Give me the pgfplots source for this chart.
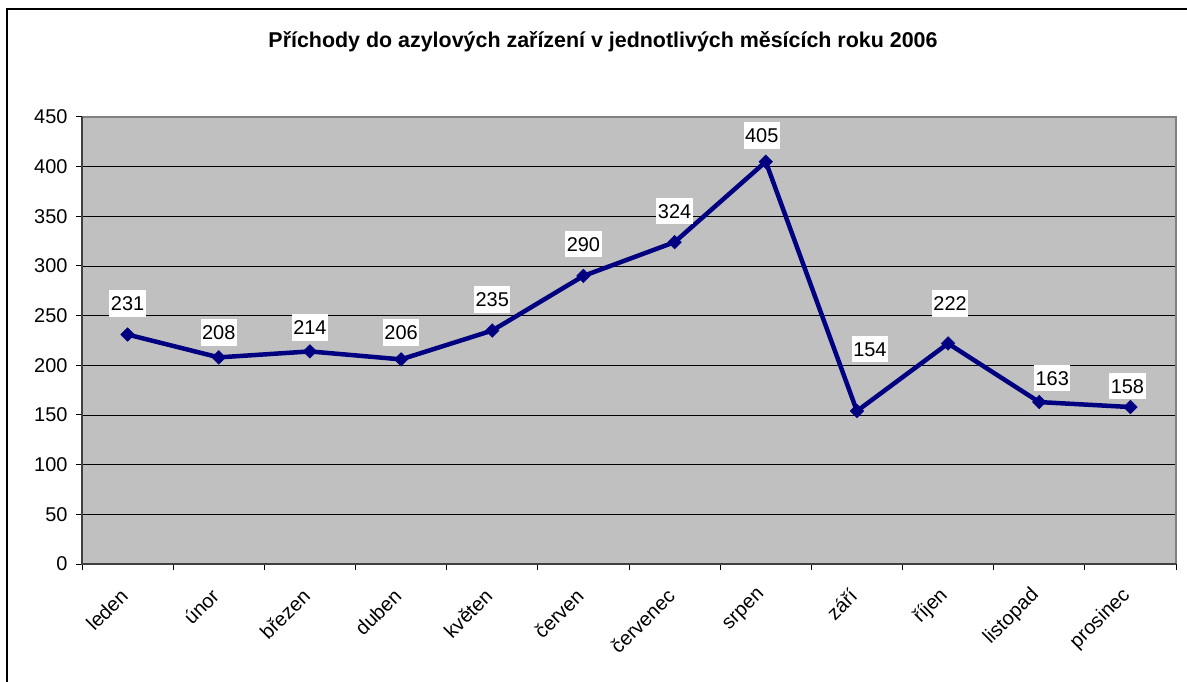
\documentclass[border=0pt]{standalone}
\usepackage{fontspec}
\setmainfont{Liberation Sans}
\usepackage{pgfplots}
\usepackage{pgfplotstable}
\pgfplotsset{compat=1.18}

\definecolor{plotbg}{HTML}{C0C0C0}
\definecolor{navyline}{HTML}{000080}
\definecolor{edgegray}{HTML}{808080}
\definecolor{axisdark}{HTML}{404040}

% x = category centre, y = value, dx/dy = label offset in bp
\pgfplotstableread{
x    y   dx  dy
0.5  231  0  31
1.5  208  0  25
2.5  214  0  24
3.5  206  0  27
4.5  235  0  31
5.5  290  0  32
6.5  324  0  31
7.5  405 -4  26
8.5  154 13  62
9.5  222  2  40
10.5 163 13  24
11.5 158 -3  21
}\prichody

\begin{document}
\begin{tikzpicture}
\useasboundingbox (0,0) rectangle (1187bp,682bp);
\draw[line width=1.5bp] (7bp,0) -- (7bp,673bp) -- (1187bp,673bp);
\node[font=\bfseries\fontsize{21.5}{25}\selectfont] at (603bp,640bp)
  {Příchody do azylových zařízení v jednotlivých měsících roku 2006};

\begin{axis}[
    at={(82bp,118bp)}, anchor=south west,
    scale only axis,
    width=1094bp, height=447bp,
    xmin=0, xmax=12, ymin=0, ymax=450,
    axis background/.style={fill=plotbg},
    axis line style={draw=none},
    ytick={0,50,...,450},
    xtick={0.5,1.5,...,11.5},
    xticklabels={leden,únor,březen,duben,květen,červen,červenec,srpen,září,říjen,listopad,prosinec},
    minor xtick={0,1,...,12},
    major x tick style={draw=none},
    tick pos=left,
    tick align=outside,
    major tick length=6bp,
    minor tick length=6bp,
    tick style={black, line width=1bp},
    ymajorgrids=true,
    major grid style={black, line width=0.8bp},
    /pgf/number format/assume math mode=true,
    yticklabel style={font=\fontsize{20}{24}\selectfont, xshift=-5bp},
    xticklabel style={font=\fontsize{20}{24}\selectfont, yshift=-20bp, xshift=-1bp, rotate=45, anchor=east},
    clip=false,
]
  \draw[edgegray, line width=2bp] (rel axis cs:0,1) -- (rel axis cs:1,1) -- (rel axis cs:1,0);
  \draw[axisdark, line width=1.5bp] (rel axis cs:0,1) -- (rel axis cs:0,0) -- (rel axis cs:1,0);

  \addplot[navyline, line width=4.5bp,
      mark=square*, mark size=4.8bp,
      mark options={rotate=45, fill=navyline, line width=0.5bp},
      point meta=y,
      nodes near coords,
      visualization depends on={\thisrow{dx} \as \dx},
      visualization depends on={\thisrow{dy} \as \dy},
      every node near coord/.append style={
          anchor=center, xshift=\dx*1bp, yshift=\dy*1bp,
          fill=white, text=black,
          font=\fontsize{20}{24}\selectfont,
          text height=14.5bp, text depth=0bp,
          inner xsep=1.5bp, inner ysep=6bp},
  ] table[x=x, y=y] {\prichody};
\end{axis}
\end{tikzpicture}
\end{document}
